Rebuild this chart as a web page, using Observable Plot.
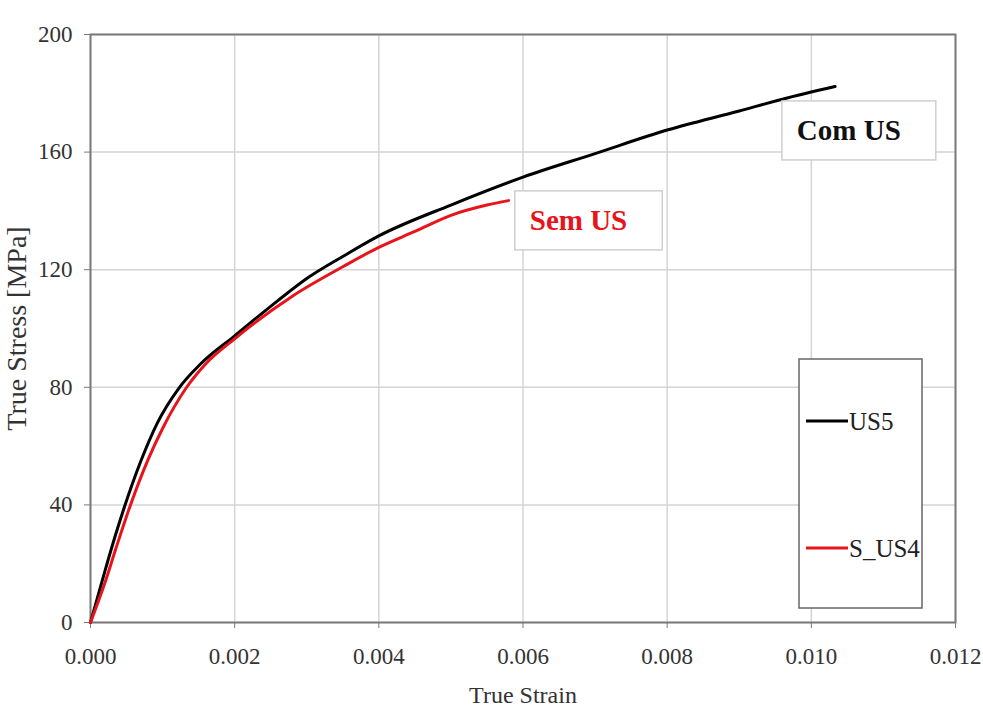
<!DOCTYPE html>
<html><head><meta charset="utf-8">
<script src="https://cdn.jsdelivr.net/npm/d3@7"></script>
<script src="https://cdn.jsdelivr.net/npm/@observablehq/plot@0.6"></script>
<style>
body{margin:0;background:#fff;}
#chart{position:relative;width:983px;height:714px;}
#chart svg, #chart svg text{font-family:"Liberation Serif","Times New Roman",serif !important;}
</style>
</head><body><div id="chart"></div>
<script>
// ---- data ----
const seriesNames = ["US5", "S_US4"];
const seriesColors = ["#000000", "#e8141b"];
const us5Strain = [0, 0.0002, 0.00035, 0.00046, 0.0007, 0.00093, 0.00122, 0.00153, 0.002, 0.0026, 0.003, 0.0035, 0.004, 0.005, 0.006, 0.007, 0.008, 0.009, 0.0096, 0.01033];
const us5Stress = [0, 17.5, 30, 38.5, 55, 68, 79.5, 88, 97.5, 109.5, 117, 124.5, 131.5, 142, 151.5, 159.5, 167.5, 174, 178, 182.3];
const sus4Strain = [0, 0.0002, 0.00035, 0.000555, 0.0008, 0.001, 0.00132, 0.0016, 0.002, 0.0028, 0.0035, 0.004, 0.0045, 0.005, 0.0055, 0.0058];
const sus4Stress = [0, 13.5, 25, 40, 55.5, 66, 79.5, 88, 96.5, 111, 121, 127.6, 133, 138.5, 142, 143.5];
const xTicks = [0, 0.002, 0.004, 0.006, 0.008, 0.010, 0.012];
const yTicks = [0, 40, 80, 120, 160, 200];
const annLabels = ["Com US", "Sem US"];
const annStrain = [0.01052, 0.00677];
const annStress = [167.3, 136.7];
const annColors = ["#111111", "#e8141b"];
const xLabel = "True Strain";
const yLabel = "True Stress [MPa]";

const rows = [];
us5Strain.forEach((x, i) => rows.push({series: seriesNames[0], strain: x, stress: us5Stress[i]}));
sus4Strain.forEach((x, i) => rows.push({series: seriesNames[1], strain: x, stress: sus4Stress[i]}));
const anns = annLabels.map((t, i) => ({label: t, strain: annStrain[i], stress: annStress[i], color: annColors[i]}));

const FONT = '"Liberation Serif","Times New Roman",serif';
const xFmt = d3.format(".3f"), yFmt = d3.format("d");
const W = 983, H = 714, mL = 90, mR = 28, mT = 34, mB = 92;
const plot = Plot.plot({
  width: W, height: H,
  marginLeft: mL, marginRight: mR, marginTop: mT, marginBottom: mB,
  style: {fontFamily: FONT, background: "#fff"},
  x: {domain: [0, 0.012]},
  y: {domain: [0, 200]},
  color: {domain: seriesNames, range: seriesColors},
  marks: [
    Plot.gridX(xTicks, {stroke: "#d4d4d4", strokeOpacity: 1, strokeWidth: 1.5}),
    Plot.gridY(yTicks, {stroke: "#d4d4d4", strokeOpacity: 1, strokeWidth: 1.5}),
    Plot.frame({stroke: "#7a7a7a", strokeWidth: 2}),
    Plot.axisX({ticks: xTicks, tickFormat: xFmt, tickSize: 6, tickPadding: 19, fontSize: 23, stroke: "#7a7a7a", color: "#333",
      label: xLabel, labelAnchor: "center", labelArrow: "none", labelOffset: 80}),
    Plot.axisY({ticks: yTicks, tickFormat: yFmt, tickSize: 6, tickPadding: 12, fontSize: 23, stroke: "#7a7a7a", color: "#333",
      label: yLabel, labelAnchor: "center", labelArrow: "none", labelOffset: 84}),
    Plot.line(rows, {x: "strain", y: "stress", z: "series", stroke: "series", strokeWidth: 3, curve: "monotone-x"}),
    Plot.text(anns, {x: "strain", y: "stress", text: "label", fill: "color", fontSize: 29, fontWeight: "bold", className: "ann"})
  ]
});
document.getElementById("chart").appendChild(plot);
const svg = d3.select(plot);

const tickTexts = new Set([...xTicks.map(xFmt), ...yTicks.map(yFmt)]);
svg.selectAll("text").each(function() {
  const s = d3.select(this);
  const txt = this.textContent;
  if (txt === xLabel) s.style("font-size", "24px", "important").attr("fill", "#333");
  else if (txt === yLabel) s.style("font-size", "28px", "important").attr("fill", "#333");
  else if (tickTexts.has(txt)) s.style("font-size", "23px", "important").attr("fill", "#333");
});

// boxes around annotations
svg.selectAll("g.ann text").each(function() {
  const b = this.getBBox();
  const r = d3.select(this.parentNode).insert("rect", "text")
    .attr("x", b.x - 15).attr("y", b.y - 13).attr("width", b.width + 50).attr("height", b.height + 27)
    .attr("fill", "#fff").attr("stroke", "#cfcfcf").attr("stroke-width", 1.5);
  const t = this.getAttribute("transform");
  if (t) r.attr("transform", t);
});
svg.select("g.ann").raise();

// legend box
const lg = svg.append("g").attr("text-anchor", "start");
lg.append("rect").attr("x", 799).attr("y", 359).attr("width", 123).attr("height", 249)
  .attr("fill", "#fff").attr("stroke", "#666").attr("stroke-width", 1.5);
const legY = [421, 548];
seriesNames.forEach((n, i) => {
  lg.append("line").attr("x1", 806).attr("x2", 848).attr("y1", legY[i]).attr("y2", legY[i])
    .attr("stroke", seriesColors[i]).attr("stroke-width", 3);
  lg.append("text").attr("x", 849).attr("y", legY[i]).attr("dy", "0.35em")
    .attr("font-size", 25).attr("fill", "#222").text(n);
});
</script>
</body></html>
